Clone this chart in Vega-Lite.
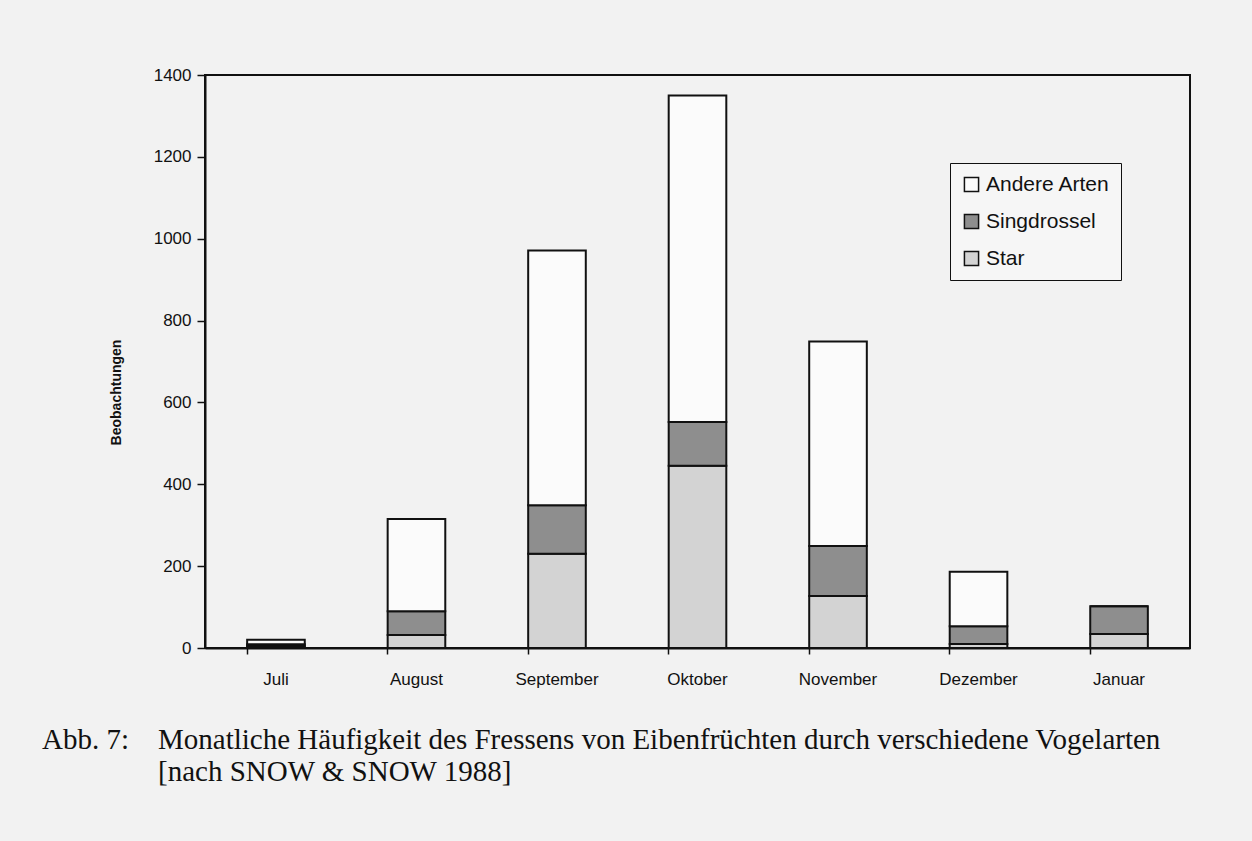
{
  "$schema": "https://vega.github.io/schema/vega-lite/v6.json",
  "width": 985,
  "height": 573,
  "autosize": {"type": "none"},
  "padding": {"left": 205, "top": 75, "right": 62, "bottom": 193},
  "background": "#f2f2f2",
  "config": {
    "view": {"stroke": "#111111", "strokeWidth": 2},
    "font": "Liberation Sans"
  },
  "title": {
    "text": [
      "Abb. 7:\u00a0\u00a0\u00a0\u00a0Monatliche Häufigkeit des Fressens von Eibenfrüchten durch verschiedene Vogelarten",
      "\u200b\u00a0\u00a0\u00a0\u00a0\u00a0\u00a0\u00a0\u00a0\u00a0\u00a0\u00a0\u00a0\u00a0\u00a0\u00a0\u00a0[nach SNOW & SNOW 1988]"
    ],
    "orient": "bottom",
    "anchor": "start",
    "frame": "group",
    "dx": -163,
    "offset": 39,
    "font": "Liberation Serif",
    "fontSize": 29,
    "fontWeight": "normal",
    "lineHeight": 32,
    "color": "#111111"
  },
  "data": {
    "values": [
      {"Monat": "Juli", "Art": "Star", "Beobachtungen": 5},
      {"Monat": "Juli", "Art": "Singdrossel", "Beobachtungen": 4},
      {"Monat": "Juli", "Art": "Andere Arten", "Beobachtungen": 11},
      {"Monat": "August", "Art": "Star", "Beobachtungen": 32},
      {"Monat": "August", "Art": "Singdrossel", "Beobachtungen": 58},
      {"Monat": "August", "Art": "Andere Arten", "Beobachtungen": 225},
      {"Monat": "September", "Art": "Star", "Beobachtungen": 230},
      {"Monat": "September", "Art": "Singdrossel", "Beobachtungen": 119},
      {"Monat": "September", "Art": "Andere Arten", "Beobachtungen": 622},
      {"Monat": "Oktober", "Art": "Star", "Beobachtungen": 445},
      {"Monat": "Oktober", "Art": "Singdrossel", "Beobachtungen": 107},
      {"Monat": "Oktober", "Art": "Andere Arten", "Beobachtungen": 798},
      {"Monat": "November", "Art": "Star", "Beobachtungen": 127},
      {"Monat": "November", "Art": "Singdrossel", "Beobachtungen": 122},
      {"Monat": "November", "Art": "Andere Arten", "Beobachtungen": 500},
      {"Monat": "Dezember", "Art": "Star", "Beobachtungen": 10},
      {"Monat": "Dezember", "Art": "Singdrossel", "Beobachtungen": 43},
      {"Monat": "Dezember", "Art": "Andere Arten", "Beobachtungen": 133},
      {"Monat": "Januar", "Art": "Star", "Beobachtungen": 34},
      {"Monat": "Januar", "Art": "Singdrossel", "Beobachtungen": 68},
      {"Monat": "Januar", "Art": "Andere Arten", "Beobachtungen": 0}
    ]
  },
  "mark": {"type": "bar", "stroke": "#111111", "strokeWidth": 2},
  "encoding": {
    "x": {
      "field": "Monat",
      "type": "nominal",
      "sort": ["Juli", "August", "September", "Oktober", "November", "Dezember", "Januar"],
      "scale": {"paddingInner": 0.59, "paddingOuter": 0.3},
      "axis": {
        "title": null,
        "labelAngle": 0,
        "labelFontSize": 17,
        "labelColor": "#111111",
        "labelPadding": 17,
        "domainColor": "#111111",
        "domainWidth": 2,
        "tickColor": "#111111",
        "tickSize": 6,
        "tickWidth": 1.5,
        "bandPosition": 0
      }
    },
    "y": {
      "field": "Beobachtungen",
      "type": "quantitative",
      "stack": "zero",
      "scale": {"domain": [0, 1400], "nice": false},
      "axis": {
        "title": "Beobachtungen",
        "titleFontSize": 14,
        "titleFontWeight": "bold",
        "titleColor": "#111111",
        "titleX": -82,
        "titleY": 317,
        "values": [0, 200, 400, 600, 800, 1000, 1200, 1400],
        "format": "d",
        "grid": false,
        "labelFontSize": 17,
        "labelColor": "#111111",
        "labelPadding": 6,
        "domainColor": "#111111",
        "domainWidth": 2,
        "tickColor": "#111111",
        "tickSize": 8,
        "tickWidth": 1.5
      }
    },
    "color": {
      "field": "Art",
      "type": "nominal",
      "scale": {
        "domain": ["Andere Arten", "Singdrossel", "Star"],
        "range": ["#fbfbfb", "#8e8e8e", "#d3d3d3"]
      },
      "legend": {
        "title": null,
        "orient": "none",
        "legendX": 745,
        "legendY": 88,
        "symbolType": "square",
        "symbolSize": 200,
        "symbolStrokeColor": "#111111",
        "symbolStrokeWidth": 1.5,
        "symbolOpacity": 1,
        "labelFontSize": 21,
        "labelColor": "#111111",
        "rowPadding": 15,
        "padding": 11,
        "strokeColor": "#111111",
        "fillColor": "#f6f6f6",
        "labelLimit": 300
      }
    },
    "order": {"field": "Art", "sort": "descending"}
  }
}
